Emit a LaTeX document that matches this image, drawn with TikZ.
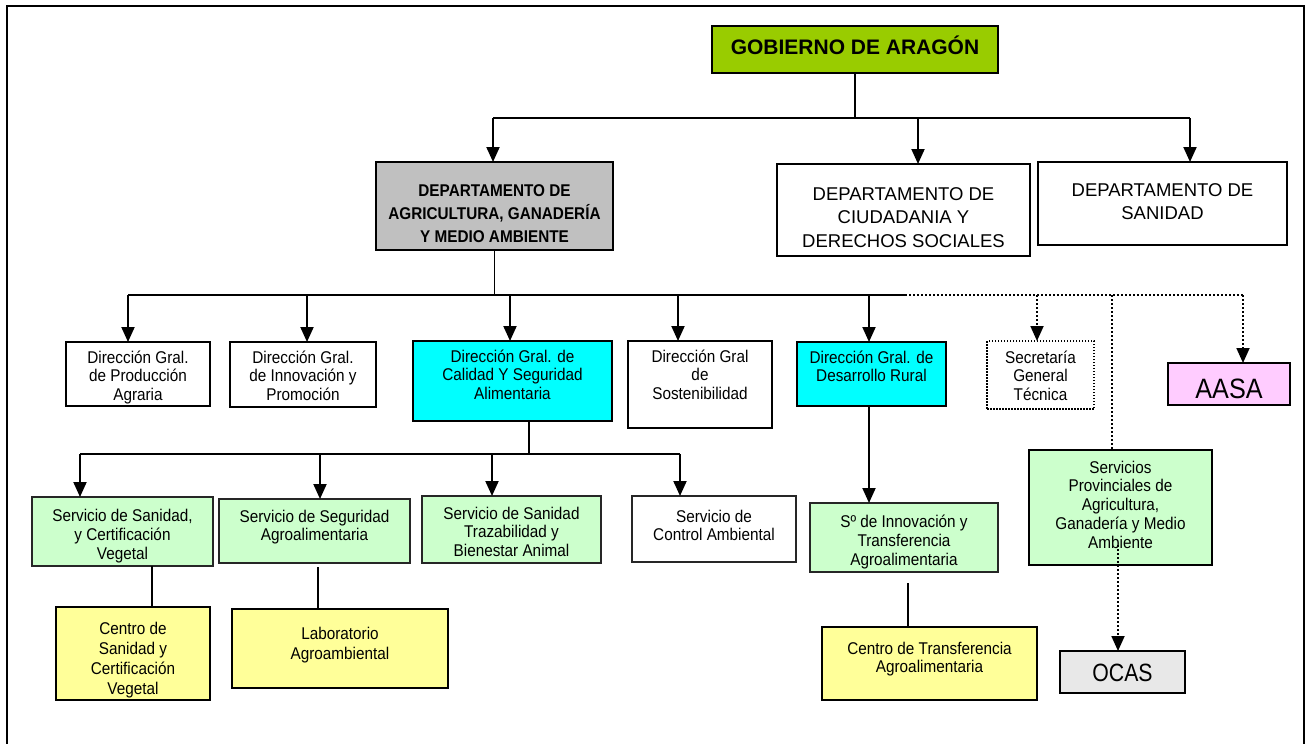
\documentclass[tikz,border=0pt]{standalone}
\usepackage{fontspec}
\setmainfont{Liberation Sans}
\newfontfamily\narrowfont[FakeStretch=0.9]{Liberation Sans}
\newfontfamily\ocasfont[FakeStretch=0.85]{Liberation Sans}
\usetikzlibrary{arrows.meta}
\definecolor{gobgreen}{HTML}{99CC00}
\definecolor{deptgray}{HTML}{C0C0C0}
\definecolor{dgcyan}{HTML}{00FFFF}
\definecolor{svgreen}{HTML}{CCFFCC}
\definecolor{ctyellow}{HTML}{FFFF99}
\definecolor{aasapink}{HTML}{FFCCFF}
\definecolor{ocasgray}{HTML}{E8E8E8}
\newcommand\ftitle{\fontsize{21}{25}\bfseries\selectfont}
\newcommand\fdeptb{\narrowfont\fontsize{17}{23}\bfseries\selectfont}
\newcommand\fdept{\fontsize{18.5}{23.5}\selectfont}
\newcommand\fsm{\narrowfont\fontsize{17}{18.8}\selectfont}
\newcommand\fsmw{\narrowfont\fontsize{17}{20}\selectfont}
\newcommand\fbig{\narrowfont\fontsize{28}{30}\selectfont}
\newcommand\focas{\ocasfont\fontsize{25}{28}\selectfont}
% width, height, first-baseline distance, font, text
\newcommand\cell[5]{\begin{minipage}[c][#2][t]{#1}\centering#4\rule{0pt}{#3}#5\end{minipage}}
\tikzset{
  box/.style={draw, inner sep=0pt, outer sep=0pt, line width=1.6pt},
  sbox/.style={draw=black!85, inner sep=0pt, outer sep=0pt, line width=1.3pt},
  secbox/.style={draw, inner sep=0pt, outer sep=0pt, line width=1.3pt, dash pattern=on 1.5pt off 1.5pt},
  thinln/.style={line width=1.4pt},
  busln/.style={line width=2pt},
  arr/.style={line width=2pt, -{Triangle[width=13pt,length=15pt]}},
  dotln/.style={line width=1.8pt, dash pattern=on 1.8pt off 2.2pt},
  dotarr/.style={line width=1.8pt, dash pattern=on 1.8pt off 2.2pt, -{Triangle[width=13pt,length=15pt]}},
}
\begin{document}
\begin{tikzpicture}[x=1pt, y=-1pt]
\useasboundingbox (0,0) rectangle (1309,744);
\draw[line width=2pt] (7,744) -- (7,6) -- (1304,6) -- (1304,744);

% top levels
\node[box, fill=gobgreen] (gob) at (855,49.5) {\cell{286pt}{47pt}{28.5pt}{\ftitle}{GOBIERNO DE ARAGÓN}};
\node[box, fill=deptgray] (agr) at (494.5,206) {\cell{237pt}{88pt}{34pt}{\fdeptb}{DEPARTAMENTO DE\\AGRICULTURA, GANADERÍA\\Y MEDIO AMBIENTE}};
\node[box] (ciu) at (903.5,210) {\cell{253pt}{92pt}{36pt}{\fdept}{DEPARTAMENTO DE\\CIUDADANIA Y\\DERECHOS SOCIALES}};
\node[box] (san) at (1162.5,203.5) {\cell{249pt}{83pt}{34pt}{\fdept}{DEPARTAMENTO DE\\SANIDAD}};

% direcciones
\node[box] (dg1) at (138,374) {\cell{144pt}{64pt}{21pt}{\fsm}{Dirección Gral.\\de Producción\\Agraria}};
\node[box] (dg2) at (303,374.5) {\cell{146pt}{65pt}{21pt}{\fsm}{Dirección Gral.\\de Innovación y\\Promoción}};
\node[box, fill=dgcyan] (dg3) at (512.5,381) {\cell{199pt}{80pt}{21pt}{\fsm}{Dirección Gral. de\\Calidad Y Seguridad\\Alimentaria}};
\node[box] (dg4) at (700,384.5) {\cell{144pt}{87pt}{21pt}{\fsm}{Dirección Gral\\de\\Sostenibilidad}};
\node[box, fill=dgcyan] (dg5) at (871.5,374) {\cell{149pt}{64pt}{21pt}{\fsm}{Dirección Gral. de\\Desarrollo Rural}};
\node[secbox] (sec) at (1040.5,375) {\cell{107pt}{68pt}{22pt}{\fsm}{Secretaría\\General\\Técnica}};
\node[box, fill=aasapink] (aasa) at (1229,384) {\cell{122pt}{42pt}{35pt}{\fbig}{AASA}};

% servicios
\node[sbox, fill=svgreen] (s1) at (122.5,531.5) {\cell{181pt}{69pt}{24.5pt}{\fsm}{Servicio de Sanidad,\\y Certificación\\Vegetal}};
\node[sbox, fill=svgreen] (s2) at (314.5,531) {\cell{191pt}{64pt}{23pt}{\fsm}{Servicio de Seguridad\\Agroalimentaria}};
\node[sbox, fill=svgreen] (s3) at (511.5,529.5) {\cell{179pt}{67pt}{23pt}{\fsm}{Servicio de Sanidad\\Trazabilidad y\\Bienestar Animal}};
\node[sbox] (s4) at (714,529) {\cell{164pt}{66pt}{26pt}{\fsm}{Servicio de\\Control Ambiental}};
\node[sbox, fill=svgreen] (sin) at (904,537.5) {\cell{188pt}{69pt}{24.5pt}{\fsm}{Sº de Innovación y\\Transferencia\\Agroalimentaria}};
\node[box, fill=svgreen] (sp) at (1120.5,507.5) {\cell{183pt}{115pt}{23pt}{\fsm}{Servicios\\Provinciales de\\Agricultura,\\Ganadería y Medio\\Ambiente}};

% centros
\node[box, fill=ctyellow] (cs) at (133,653.5) {\cell{154pt}{93pt}{27pt}{\fsmw}{Centro de\\Sanidad y\\Certificación\\Vegetal}};
\node[box, fill=ctyellow] (lab) at (340,648.5) {\cell{216pt}{79pt}{30pt}{\fsmw}{Laboratorio\\Agroambiental}};
\node[box, fill=ctyellow] (ct) at (929.5,663.5) {\cell{215pt}{73pt}{27pt}{\fsm}{Centro de Transferencia\\Agroalimentaria}};
\node[box, fill=ocasgray] (ocas) at (1122.5,672) {\cell{125pt}{42pt}{30.5pt}{\focas}{OCAS}};

% level 1 bus
\coordinate (b1L) at (493,118);
\coordinate (b1M) at (918,118);
\coordinate (b1R) at (1190,118);
\draw[thinln] (gob.south) -- (gob.south |- b1L);
\draw[busln] (b1L) -- (b1R);
\draw[arr] (b1L) -- (b1L |- agr.north);
\draw[arr] (b1M) -- (b1M |- ciu.north);
\draw[arr] (b1R) -- (b1R |- san.north);

% level 2 bus
\coordinate (b2L) at (128,295);
\coordinate (b2b) at (307,295);
\coordinate (b2c) at (510,295);
\coordinate (b2d) at (678,295);
\coordinate (b2e) at (869,295);
\coordinate (b2D) at (905,295);
\coordinate (b2f) at (1037,295);
\coordinate (b2g) at (1112,295);
\coordinate (b2R) at (1243,295);
\draw[thinln] (agr.south) -- (agr.south |- b2L);
\draw[busln] (b2L) -- (b2D);
\draw[dotln] (b2D) -- (b2R);
\draw[arr] (b2L) -- (b2L |- dg1.north);
\draw[arr] (b2b) -- (b2b |- dg2.north);
\draw[arr] (b2c) -- (b2c |- dg3.north);
\draw[arr] (b2d) -- (b2d |- dg4.north);
\draw[arr] (b2e) -- (b2e |- dg5.north);
\draw[dotarr] (b2f) -- (b2f |- sec.north);
\draw[dotln] (b2g) -- (b2g |- sp.north);
\draw[dotarr] (b2R) -- (b2R |- aasa.north);

% level 3 bus
\coordinate (b3L) at (80,454);
\coordinate (b3b) at (320,454);
\coordinate (b3c) at (492,454);
\coordinate (b3R) at (680,454);
\coordinate (d3) at (529,454);
\draw[thinln] (d3 |- dg3.south) -- (d3);
\draw[busln] (b3L) -- (b3R);
\draw[arr] (b3L) -- (b3L |- s1.north);
\draw[arr] (b3b) -- (b3b |- s2.north);
\draw[arr] (b3c) -- (b3c |- s3.north);
\draw[arr] (b3R) -- (b3R |- s4.north);

% lower links
\coordinate (c1) at (152,600);
\draw[thinln] (c1 |- s1.south) -- (c1 |- cs.north);
\coordinate (c2) at (318,567);
\draw[thinln] (c2) -- (c2 |- lab.north);
\coordinate (c5) at (869,450);
\draw[arr] (c5 |- dg5.south) -- (c5 |- sin.north);
\coordinate (c6) at (908,583);
\draw[thinln] (c6) -- (c6 |- ct.north);
\coordinate (c7) at (1118,545);
\draw[dotarr] (c7) -- (c7 |- ocas.north);
\end{tikzpicture}
\end{document}
